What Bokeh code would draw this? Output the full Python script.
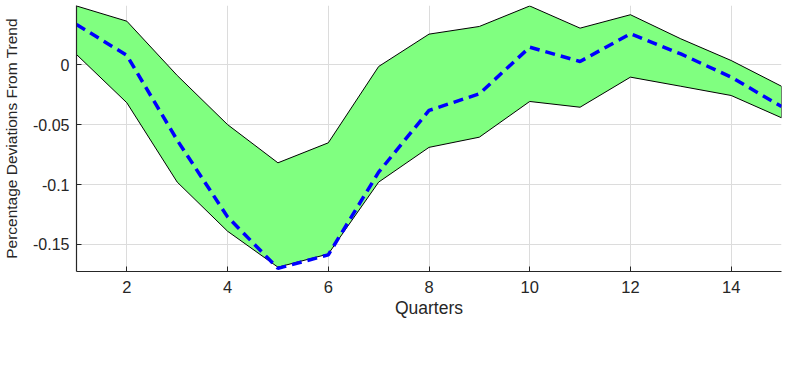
from bokeh.plotting import figure
from bokeh.embed import file_html
from bokeh.resources import INLINE
from bokeh.models import Range1d, FixedTicker

quarters = [1, 2, 3, 4, 5, 6, 7, 8, 9, 10, 11, 12, 13, 14, 15]
upper = [0.049, 0.0363, -0.009, -0.050, -0.0819, -0.0652, -0.0015, 0.0255, 0.0319, 0.049,
         0.0305, 0.0417, 0.0216, 0.0035, -0.018]
lower = [0.0085, -0.0318, -0.098, -0.139, -0.169, -0.158, -0.098, -0.069, -0.0605, -0.0307,
         -0.0355, -0.0104, -0.018, -0.0257, -0.0443]
median = [0.0336, 0.0077, -0.063, -0.127, -0.170, -0.1587, -0.0897, -0.0382, -0.0243, 0.0146,
          0.0027, 0.0258, 0.009, -0.0104, -0.0349]
x_ticks = [2, 4, 6, 8, 10, 12, 14]
y_ticks = [-0.15, -0.1, -0.05, 0]
y_tick_labels = {-0.15: "-0.15", -0.1: "-0.1", -0.05: "-0.05", 0: "0"}

p = figure(width=788, height=360, output_backend="svg", toolbar_location=None,
           x_range=Range1d(1, 15), y_range=Range1d(-0.1726, 0.0494),
           min_border_left=76, min_border_right=7, min_border_top=5, min_border_bottom=89)
p.outline_line_color = None

xs = quarters + quarters[::-1]
ys = upper + lower[::-1]
p.patch(xs, ys, fill_color="#80FF80", fill_alpha=1.0, line_color="#000000", line_width=1)
p.line(quarters, median, line_color="#0000FF", line_width=3.5, line_dash="10 6")

for ax in (p.xaxis[0], p.yaxis[0]):
    ax.axis_line_color = "#262626"
    ax.axis_line_width = 1.2
    ax.major_tick_line_color = "#262626"
    ax.major_tick_in = 5
    ax.major_tick_out = 0
    ax.minor_tick_line_color = None
    ax.major_label_text_font = "Liberation Sans"
    ax.major_label_text_color = "#262626"
    ax.axis_label_text_font = "Liberation Sans"
    ax.axis_label_text_font_style = "normal"
    ax.axis_label_text_color = "#262626"

p.xaxis.major_label_text_font_size = "16.5px"
p.yaxis.major_label_text_font_size = "16px"
p.xaxis.axis_label_text_font_size = "17.5px"
p.yaxis.axis_label_text_font_size = "15.5px"
p.xaxis.ticker = FixedTicker(ticks=x_ticks)
p.yaxis.ticker = FixedTicker(ticks=y_ticks)
p.yaxis.major_label_overrides = y_tick_labels
p.xaxis.axis_label = "Quarters"
p.yaxis.axis_label = "Percentage Deviations From Trend"
p.xaxis.major_label_standoff = 9
p.xaxis.axis_label_standoff = 2
p.yaxis.major_label_standoff = 7
p.yaxis.axis_label_standoff = 10

p.xgrid.ticker = FixedTicker(ticks=x_ticks)
p.ygrid.ticker = FixedTicker(ticks=y_ticks)
p.grid.grid_line_color = "#dcdcdc"
p.grid.grid_line_width = 1

open("out.html", "w").write(file_html(p, INLINE))
